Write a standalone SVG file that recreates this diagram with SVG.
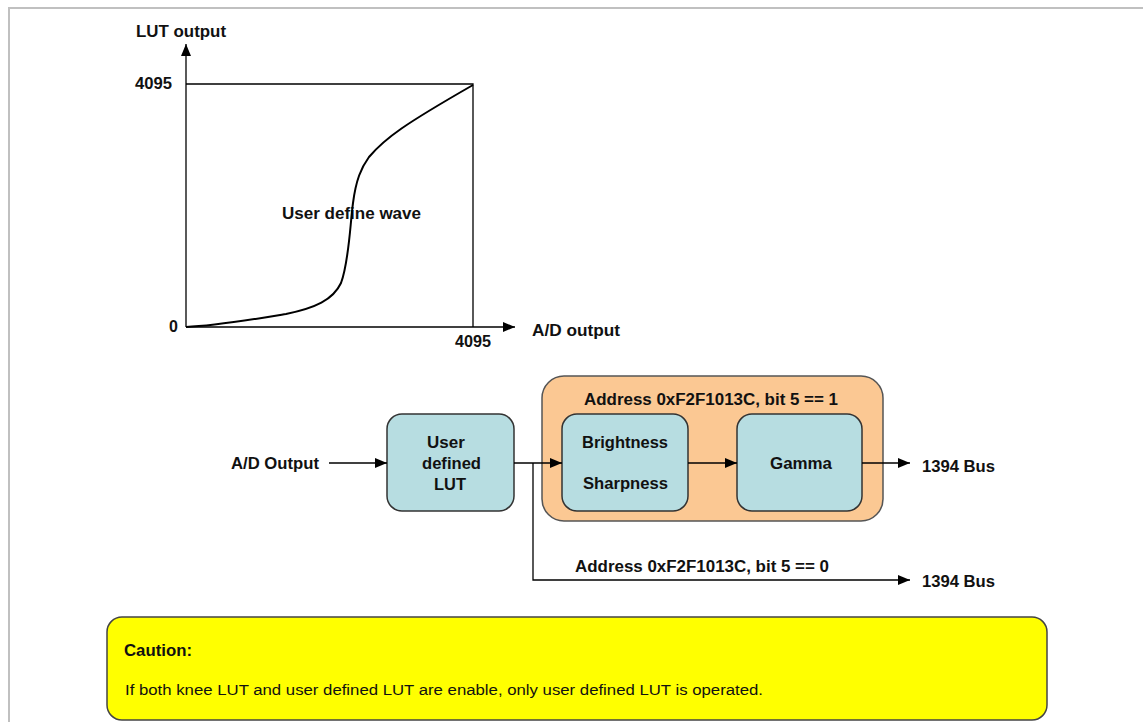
<svg xmlns="http://www.w3.org/2000/svg" width="1143" height="722" viewBox="0 0 1143 722">
<defs>
<marker id="ah" viewBox="0 0 12 10" refX="12" refY="5" markerWidth="12" markerHeight="10" markerUnits="userSpaceOnUse" orient="auto">
<path d="M0,0 L12,5 L0,10 z" fill="#000"/>
</marker>
<style>
.t{font-family:"Liberation Sans",Arial,sans-serif;font-weight:bold;font-size:16px;fill:#111}
.n{font-family:"Liberation Sans",Arial,sans-serif;font-size:14px;fill:#111}
.ln{stroke:#000;stroke-width:1.3;fill:none}
.blk{fill:#b7dde1;stroke:#333;stroke-width:1.5}
</style>
</defs>
<rect x="0" y="0" width="1143" height="722" fill="#fff"/>
<path d="M9,722 L9,8 L1143,8" fill="none" stroke="#c0c0c0" stroke-width="2"/>

<g id="chart">
<text class="t" x="136" y="37" textLength="90" lengthAdjust="spacingAndGlyphs">LUT output</text>
<text class="t" x="135" y="89" textLength="37" lengthAdjust="spacingAndGlyphs">4095</text>
<text class="t" x="169" y="332">0</text>
<text class="t" x="455" y="347" textLength="36" lengthAdjust="spacingAndGlyphs">4095</text>
<text class="t" x="532" y="336" textLength="88" lengthAdjust="spacingAndGlyphs">A/D output</text>
<text class="t" x="282" y="219" textLength="139" lengthAdjust="spacingAndGlyphs">User define wave</text>
<path class="ln" d="M186,327 L186,44" marker-end="url(#ah)"/>
<path class="ln" d="M186,327 L515,327" marker-end="url(#ah)"/>
<path class="ln" d="M186,84 L473,84 L473,327"/>
<path d="M186,327 C215,326 250,320 286,314 C315,308 333,300 341,283 C349,262 350,225 353,203 C356,180 361,168 369,157 C385,138 405,124 473,85" fill="none" stroke="#000" stroke-width="2"/>
</g>

<g id="orange">
<rect x="542" y="376" width="341" height="145" rx="22" fill="#fbc893" stroke="#555" stroke-width="1.5"/>
<text class="t" x="584" y="405" textLength="254" lengthAdjust="spacingAndGlyphs">Address 0xF2F1013C, bit 5 == 1</text>
</g>
<g id="lut">
<rect class="blk" x="387" y="414" width="127" height="97" rx="15"/>
<text class="t" x="446" y="448" text-anchor="middle" style="font-size:17px">User</text>
<text class="t" x="422" y="469" textLength="59" lengthAdjust="spacingAndGlyphs">defined</text>
<text class="t" x="434" y="490" textLength="32" lengthAdjust="spacingAndGlyphs">LUT</text>
</g>
<g id="bright">
<rect class="blk" x="562" y="414" width="126" height="97" rx="15"/>
<text class="t" x="582" y="448" textLength="86" lengthAdjust="spacingAndGlyphs">Brightness</text>
<text class="t" x="583" y="489" textLength="85" lengthAdjust="spacingAndGlyphs">Sharpness</text>
</g>
<g id="gamma">
<rect class="blk" x="737" y="414" width="125" height="97" rx="15"/>
<text class="t" x="770" y="469" textLength="62" lengthAdjust="spacingAndGlyphs">Gamma</text>
</g>
<g id="labels">
<text class="t" x="231" y="469" textLength="88" lengthAdjust="spacingAndGlyphs">A/D Output</text>
<text class="t" x="922" y="472" textLength="73" lengthAdjust="spacingAndGlyphs">1394  Bus</text>
<text class="t" x="575" y="572" textLength="254" lengthAdjust="spacingAndGlyphs">Address 0xF2F1013C, bit 5 == 0</text>
<text class="t" x="922" y="587" textLength="73" lengthAdjust="spacingAndGlyphs">1394  Bus</text>
</g>
<g id="connectors">
<path class="ln" d="M329,463 L387,463" marker-end="url(#ah)"/>
<path class="ln" d="M514,463 L562,463" marker-end="url(#ah)"/>
<path class="ln" d="M688,463 L737,463" marker-end="url(#ah)"/>
<path class="ln" d="M862,463 L910,463" marker-end="url(#ah)"/>
<path class="ln" d="M533,463 L533,580 L910,580" marker-end="url(#ah)"/>
</g>
<g id="caution">
<rect x="107" y="617" width="940" height="103" rx="15" fill="#ffff00" stroke="#444" stroke-width="1.5"/>
<text class="t" x="124" y="656" textLength="68" lengthAdjust="spacingAndGlyphs">Caution:</text>
<text class="n" x="125" y="695" textLength="638" lengthAdjust="spacingAndGlyphs">If both knee LUT and user defined LUT are enable, only user defined LUT is operated.</text>
</g>
</svg>
